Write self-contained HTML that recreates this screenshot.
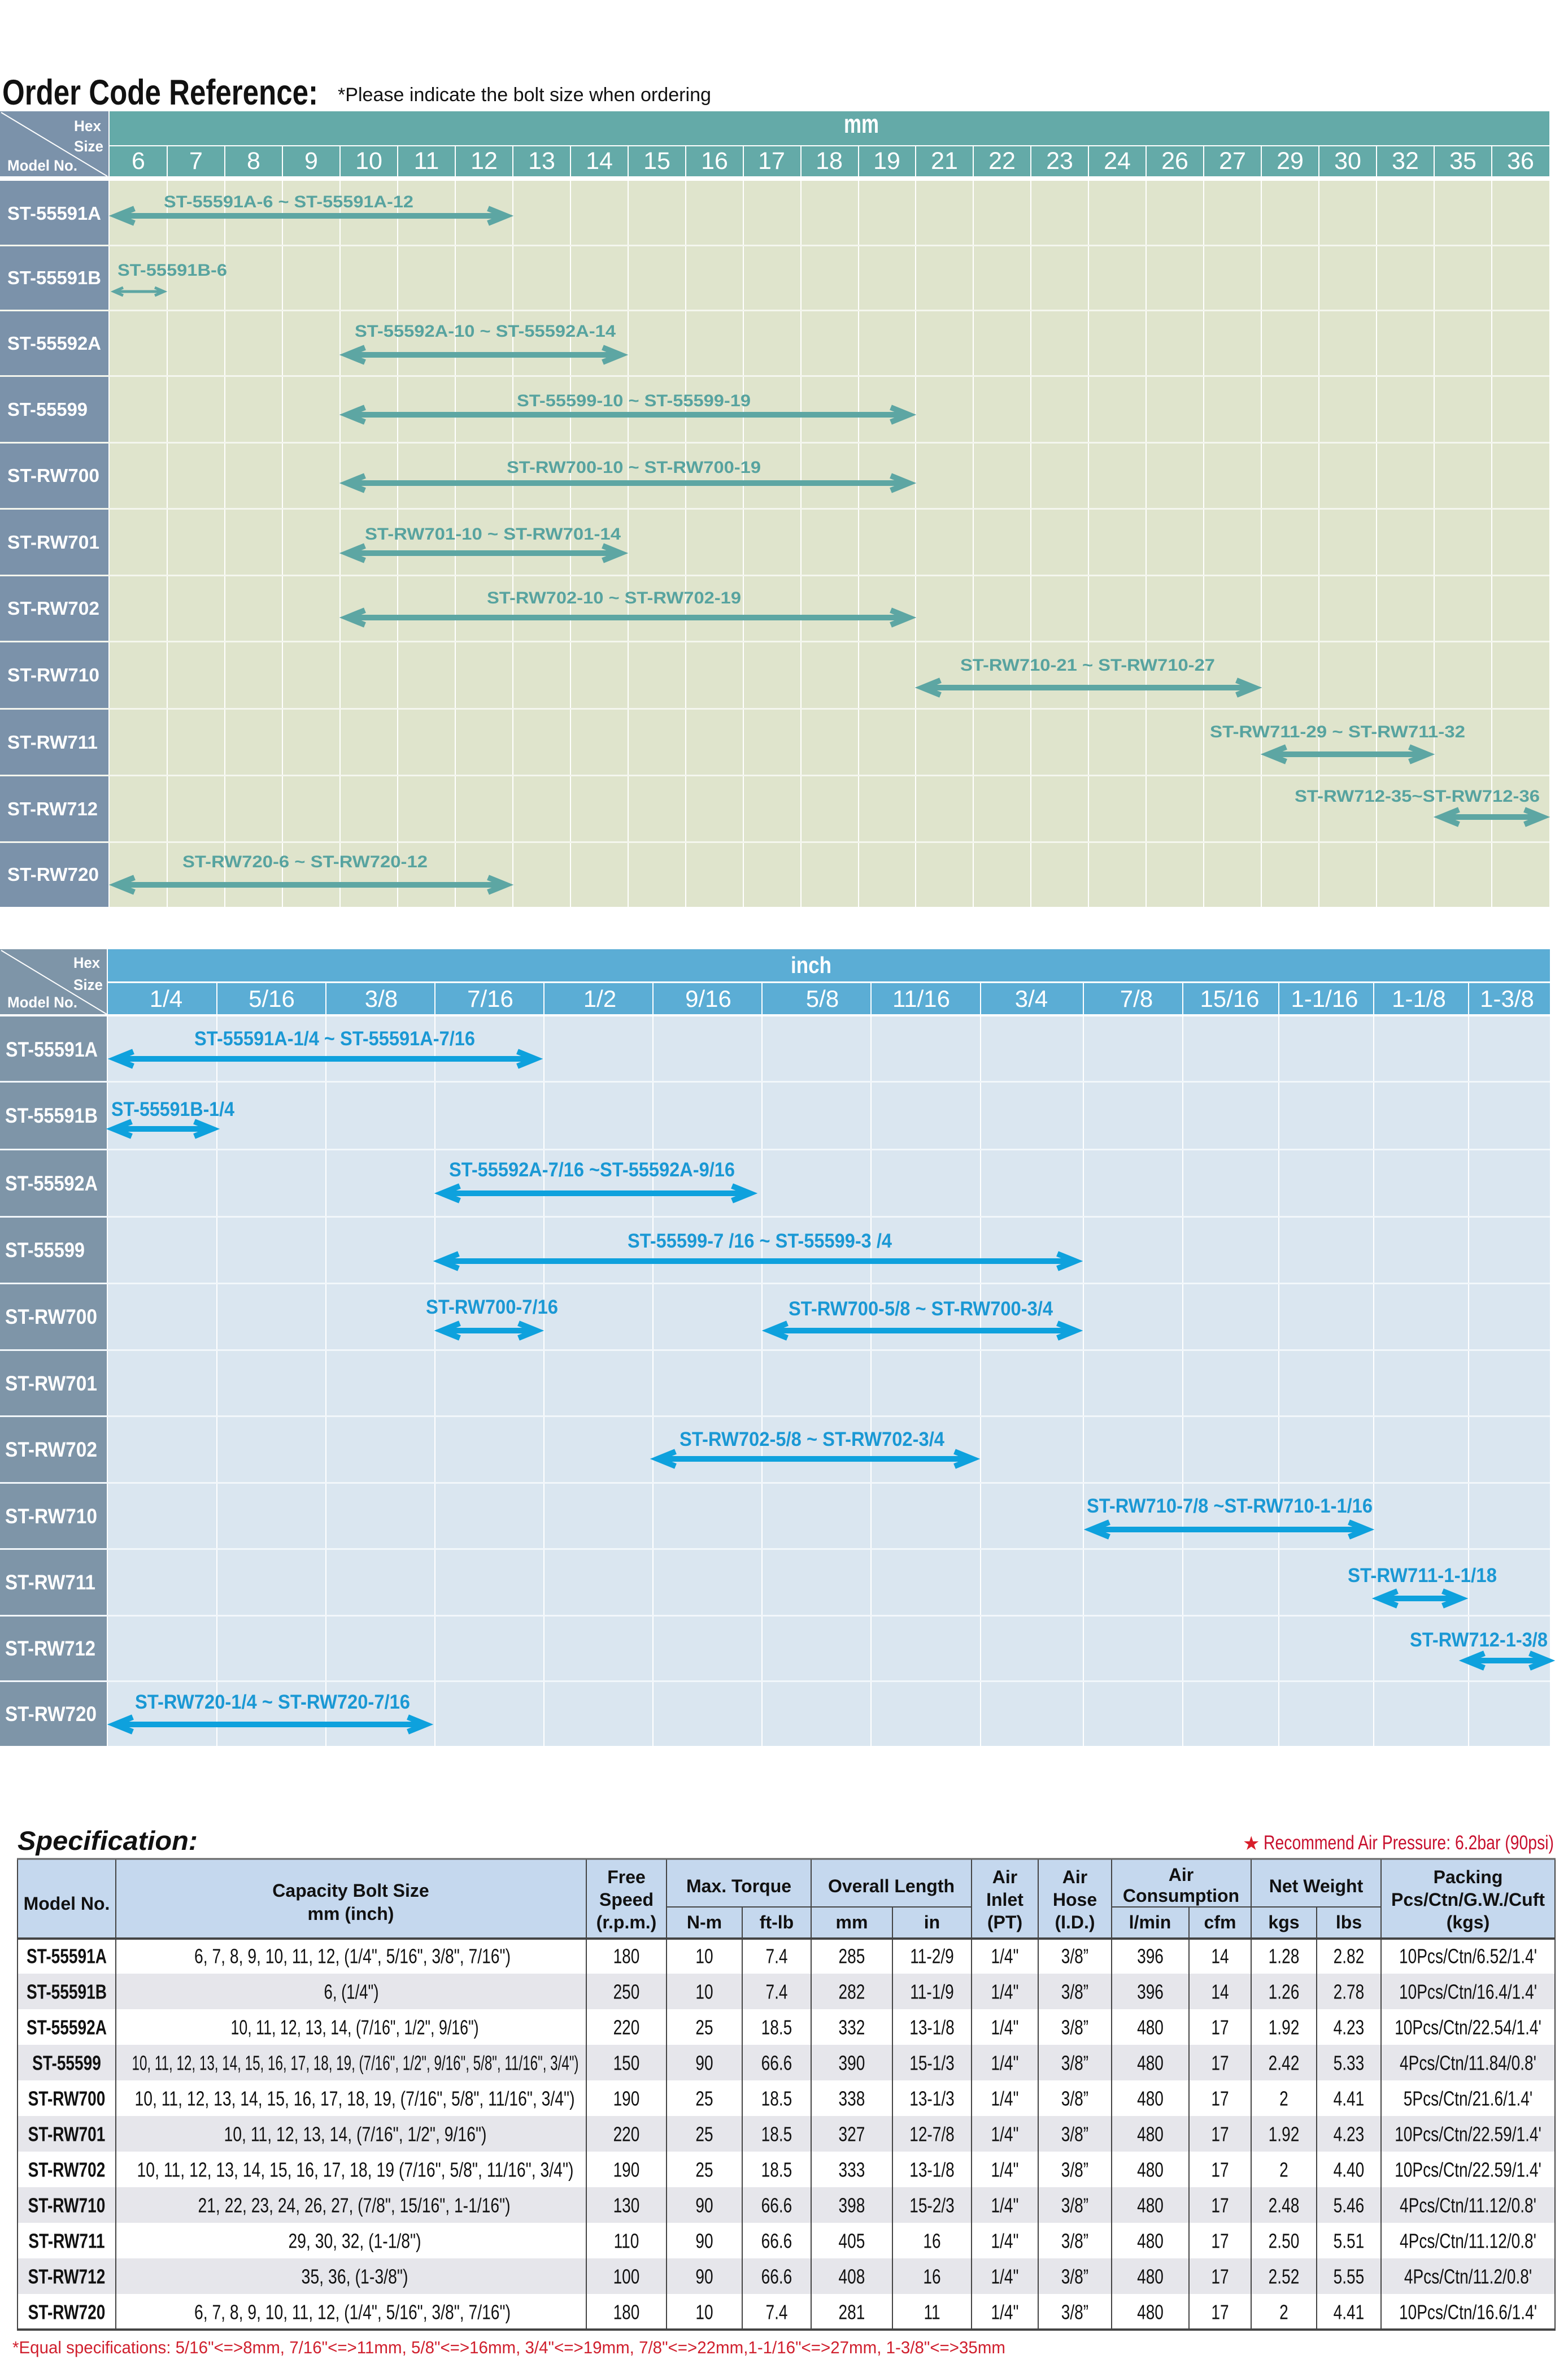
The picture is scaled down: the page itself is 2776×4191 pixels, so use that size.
<!DOCTYPE html>
<html><head><meta charset="utf-8"><style>html,body{margin:0;padding:0;background:#fff}svg{display:block}</style></head>
<body>
<svg xmlns="http://www.w3.org/2000/svg" width="2776" height="4191" viewBox="0 0 2776 4191" font-family="'Liberation Sans', Arial, sans-serif">
<rect width="2776" height="4191" fill="#fff"/>

<!-- Title -->
<text x="4" y="185" font-size="63" font-weight="bold" fill="#111" textLength="559" lengthAdjust="spacingAndGlyphs">Order Code Reference:</text>
<text x="598" y="179" font-size="34" fill="#111" textLength="661" lengthAdjust="spacingAndGlyphs">*Please indicate the bolt size when ordering</text>

<!-- ============ MM CHART ============ -->
<rect x="0" y="197" width="192" height="115" fill="#7b92aa"/>
<rect x="194" y="197" width="2549" height="60" fill="#64aaa8"/>
<rect x="194" y="259" width="2549" height="53" fill="#64aaa8"/>
<line x1="2" y1="199" x2="190" y2="312" stroke="#fff" stroke-width="2"/>
<g font-weight="bold" fill="#fff" font-size="27">
<text x="131" y="232" textLength="48" lengthAdjust="spacingAndGlyphs">Hex</text>
<text x="131" y="268" textLength="52" lengthAdjust="spacingAndGlyphs">Size</text>
<text x="13" y="302" textLength="124" lengthAdjust="spacingAndGlyphs">Model No.</text>
</g>
<text x="1494" y="235" font-size="46" font-weight="bold" fill="#fff" textLength="62" lengthAdjust="spacingAndGlyphs">mm</text>
<text y="299" font-size="43" fill="#fff" text-anchor="middle"><tspan x="245">6</tspan><tspan x="347">7</tspan><tspan x="449">8</tspan><tspan x="551">9</tspan><tspan x="653">10</tspan><tspan x="755">11</tspan><tspan x="857">12</tspan><tspan x="959">13</tspan><tspan x="1061">14</tspan><tspan x="1163">15</tspan><tspan x="1265">16</tspan><tspan x="1366">17</tspan><tspan x="1468">18</tspan><tspan x="1570">19</tspan><tspan x="1672">21</tspan><tspan x="1774">22</tspan><tspan x="1876">23</tspan><tspan x="1978">24</tspan><tspan x="2080">26</tspan><tspan x="2182">27</tspan><tspan x="2284">29</tspan><tspan x="2386">30</tspan><tspan x="2488">32</tspan><tspan x="2590">35</tspan><tspan x="2692">36</tspan></text>

<rect x="194" y="320" width="2549" height="1285" fill="#dfe4cc"/>
<rect x="0" y="320" width="192" height="1285" fill="#7b92aa"/>
<g stroke="#fff" stroke-width="2">
<line x1="296" y1="259" x2="296" y2="1605"/><line x1="398" y1="259" x2="398" y2="1605"/><line x1="500" y1="259" x2="500" y2="1605"/><line x1="602" y1="259" x2="602" y2="1605"/><line x1="704" y1="259" x2="704" y2="1605"/><line x1="806" y1="259" x2="806" y2="1605"/><line x1="908" y1="259" x2="908" y2="1605"/><line x1="1010" y1="259" x2="1010" y2="1605"/><line x1="1112" y1="259" x2="1112" y2="1605"/><line x1="1214" y1="259" x2="1214" y2="1605"/><line x1="1316" y1="259" x2="1316" y2="1605"/><line x1="1418" y1="259" x2="1418" y2="1605"/><line x1="1520" y1="259" x2="1520" y2="1605"/><line x1="1621" y1="259" x2="1621" y2="1605"/><line x1="1723" y1="259" x2="1723" y2="1605"/><line x1="1825" y1="259" x2="1825" y2="1605"/><line x1="1927" y1="259" x2="1927" y2="1605"/><line x1="2029" y1="259" x2="2029" y2="1605"/><line x1="2131" y1="259" x2="2131" y2="1605"/><line x1="2233" y1="259" x2="2233" y2="1605"/><line x1="2335" y1="259" x2="2335" y2="1605"/><line x1="2437" y1="259" x2="2437" y2="1605"/><line x1="2539" y1="259" x2="2539" y2="1605"/><line x1="2641" y1="259" x2="2641" y2="1605"/>
</g>
<g fill="#f4f6ee">
<rect x="0" y="433" width="2743" height="3"/><rect x="0" y="548" width="2743" height="3"/><rect x="0" y="664" width="2743" height="3"/><rect x="0" y="782" width="2743" height="3"/><rect x="0" y="899" width="2743" height="3"/><rect x="0" y="1017" width="2743" height="3"/><rect x="0" y="1134" width="2743" height="3"/><rect x="0" y="1253" width="2743" height="3"/><rect x="0" y="1371" width="2743" height="3"/><rect x="0" y="1489" width="2743" height="3"/>
</g>
<g font-weight="bold" fill="#fff" font-size="33">
<text x="13" y="389" textLength="166" lengthAdjust="spacingAndGlyphs">ST-55591A</text>
<text x="13" y="503" textLength="166" lengthAdjust="spacingAndGlyphs">ST-55591B</text>
<text x="13" y="619" textLength="166" lengthAdjust="spacingAndGlyphs">ST-55592A</text>
<text x="13" y="736" textLength="142" lengthAdjust="spacingAndGlyphs">ST-55599</text>
<text x="13" y="853" textLength="163" lengthAdjust="spacingAndGlyphs">ST-RW700</text>
<text x="13" y="971" textLength="163" lengthAdjust="spacingAndGlyphs">ST-RW701</text>
<text x="13" y="1088" textLength="163" lengthAdjust="spacingAndGlyphs">ST-RW702</text>
<text x="13" y="1206" textLength="163" lengthAdjust="spacingAndGlyphs">ST-RW710</text>
<text x="13" y="1325" textLength="160" lengthAdjust="spacingAndGlyphs">ST-RW711</text>
<text x="13" y="1443" textLength="160" lengthAdjust="spacingAndGlyphs">ST-RW712</text>
<text x="13" y="1559" textLength="162" lengthAdjust="spacingAndGlyphs">ST-RW720</text>
</g>
<g font-weight="bold" fill="#57a39f" font-size="30">
<text x="290" y="367" textLength="442" lengthAdjust="spacingAndGlyphs">ST-55591A-6 ~ ST-55591A-12</text>
<text x="208" y="488" textLength="194" lengthAdjust="spacingAndGlyphs">ST-55591B-6</text>
<text x="628" y="596" textLength="462" lengthAdjust="spacingAndGlyphs">ST-55592A-10 ~ ST-55592A-14</text>
<text x="915" y="719" textLength="414" lengthAdjust="spacingAndGlyphs">ST-55599-10 ~ ST-55599-19</text>
<text x="897" y="837" textLength="450" lengthAdjust="spacingAndGlyphs">ST-RW700-10 ~ ST-RW700-19</text>
<text x="646" y="955" textLength="453" lengthAdjust="spacingAndGlyphs">ST-RW701-10 ~ ST-RW701-14</text>
<text x="862" y="1068" textLength="450" lengthAdjust="spacingAndGlyphs">ST-RW702-10 ~ ST-RW702-19</text>
<text x="1700" y="1187" textLength="451" lengthAdjust="spacingAndGlyphs">ST-RW710-21 ~ ST-RW710-27</text>
<text x="2142" y="1305" textLength="452" lengthAdjust="spacingAndGlyphs">ST-RW711-29 ~ ST-RW711-32</text>
<text x="2292" y="1419" textLength="434" lengthAdjust="spacingAndGlyphs">ST-RW712-35~ST-RW712-36</text>
<text x="323" y="1535" textLength="434" lengthAdjust="spacingAndGlyphs">ST-RW720-6 ~ ST-RW720-12</text>
</g>
<g stroke="#5da6a3" stroke-width="10" fill="none" stroke-linejoin="miter" stroke-miterlimit="6">
<path d="M206 382H896 M238 369L206 382L238 395 M864 369L896 382L864 395"/>
<path d="M614 628H1099 M646 615L614 628L646 641 M1067 615L1099 628L1067 641"/>
<path d="M614 734H1609 M646 721L614 734L646 747 M1577 721L1609 734L1577 747"/>
<path d="M614 855H1609 M646 842L614 855L646 868 M1577 842L1609 855L1577 868"/>
<path d="M614 979H1099 M646 966L614 979L646 992 M1067 966L1099 979L1067 992"/>
<path d="M614 1093H1609 M646 1080L614 1093L646 1106 M1577 1080L1609 1093L1577 1106"/>
<path d="M1633 1217H2221 M1665 1204L1633 1217L1665 1230 M2189 1204L2221 1217L2189 1230"/>
<path d="M2245 1335H2527 M2277 1322L2245 1335L2277 1348 M2495 1322L2527 1335L2495 1348"/>
<path d="M2551 1446H2731 M2583 1433L2551 1446L2583 1459 M2699 1433L2731 1446L2699 1459"/>
<path d="M206 1566H896 M238 1553L206 1566L238 1579 M864 1553L896 1566L864 1579"/>
<path stroke-width="5" d="M202 516H290 M218 509L202 516L218 523 M274 509L290 516L274 523"/>
</g>

<!-- ============ INCH CHART ============ -->
<rect x="0" y="1680" width="189" height="115" fill="#7e95a8"/>
<rect x="191" y="1680" width="2553" height="57" fill="#5badd5"/>
<rect x="191" y="1740" width="2553" height="55" fill="#5badd5"/>
<line x1="2" y1="1682" x2="189" y2="1795" stroke="#fff" stroke-width="2"/>
<g font-weight="bold" fill="#fff" font-size="27">
<text x="130" y="1713" textLength="47" lengthAdjust="spacingAndGlyphs">Hex</text>
<text x="130" y="1752" textLength="52" lengthAdjust="spacingAndGlyphs">Size</text>
<text x="13" y="1783" textLength="124" lengthAdjust="spacingAndGlyphs">Model No.</text>
</g>
<text x="1400" y="1722" font-size="41" font-weight="bold" fill="#fff" textLength="72" lengthAdjust="spacingAndGlyphs">inch</text>
<text y="1782" font-size="42" fill="#fff" text-anchor="middle"><tspan x="294">1/4</tspan><tspan x="481">5/16</tspan><tspan x="675">3/8</tspan><tspan x="868">7/16</tspan><tspan x="1062">1/2</tspan><tspan x="1254">9/16</tspan><tspan x="1456">5/8</tspan><tspan x="1631">11/16</tspan><tspan x="1826">3/4</tspan><tspan x="2012">7/8</tspan><tspan x="2177">15/16</tspan><tspan x="2345">1-1/16</tspan><tspan x="2512">1-1/8</tspan><tspan x="2668">1-3/8</tspan></text>

<rect x="191" y="1799" width="2553" height="1291" fill="#dae6f0"/>
<rect x="0" y="1799" width="189" height="1291" fill="#7e95a8"/>
<g stroke="#fff" stroke-width="2">
<line x1="384" y1="1740" x2="384" y2="3090"/><line x1="577" y1="1740" x2="577" y2="3090"/><line x1="770" y1="1740" x2="770" y2="3090"/><line x1="963" y1="1740" x2="963" y2="3090"/><line x1="1156" y1="1740" x2="1156" y2="3090"/><line x1="1349" y1="1740" x2="1349" y2="3090"/><line x1="1542" y1="1740" x2="1542" y2="3090"/><line x1="1736" y1="1740" x2="1736" y2="3090"/><line x1="1918" y1="1740" x2="1918" y2="3090"/><line x1="2094" y1="1740" x2="2094" y2="3090"/><line x1="2264" y1="1740" x2="2264" y2="3090"/><line x1="2432" y1="1740" x2="2432" y2="3090"/><line x1="2600" y1="1740" x2="2600" y2="3090"/>
</g>
<g fill="#f2f7fb">
<rect x="0" y="1913" width="2744" height="3"/><rect x="0" y="2033" width="2744" height="3"/><rect x="0" y="2152" width="2744" height="3"/><rect x="0" y="2270" width="2744" height="3"/><rect x="0" y="2388" width="2744" height="3"/><rect x="0" y="2505" width="2744" height="3"/><rect x="0" y="2623" width="2744" height="3"/><rect x="0" y="2740" width="2744" height="3"/><rect x="0" y="2858" width="2744" height="3"/><rect x="0" y="2974" width="2744" height="3"/>
</g>
<g font-weight="bold" fill="#fff" font-size="37">
<text x="10" y="1870" textLength="163" lengthAdjust="spacingAndGlyphs">ST-55591A</text>
<text x="9" y="1987" textLength="164" lengthAdjust="spacingAndGlyphs">ST-55591B</text>
<text x="9" y="2107" textLength="164" lengthAdjust="spacingAndGlyphs">ST-55592A</text>
<text x="9" y="2225" textLength="141" lengthAdjust="spacingAndGlyphs">ST-55599</text>
<text x="9" y="2343" textLength="163" lengthAdjust="spacingAndGlyphs">ST-RW700</text>
<text x="9" y="2461" textLength="163" lengthAdjust="spacingAndGlyphs">ST-RW701</text>
<text x="9" y="2578" textLength="163" lengthAdjust="spacingAndGlyphs">ST-RW702</text>
<text x="9" y="2696" textLength="163" lengthAdjust="spacingAndGlyphs">ST-RW710</text>
<text x="9" y="2813" textLength="160" lengthAdjust="spacingAndGlyphs">ST-RW711</text>
<text x="9" y="2930" textLength="160" lengthAdjust="spacingAndGlyphs">ST-RW712</text>
<text x="9" y="3046" textLength="162" lengthAdjust="spacingAndGlyphs">ST-RW720</text>
</g>
<g font-weight="bold" fill="#1a98d4" font-size="35">
<text x="344" y="1850" textLength="497" lengthAdjust="spacingAndGlyphs">ST-55591A-1/4 ~ ST-55591A-7/16</text>
<text x="197" y="1975" textLength="218" lengthAdjust="spacingAndGlyphs">ST-55591B-1/4</text>
<text x="795" y="2082" textLength="506" lengthAdjust="spacingAndGlyphs">ST-55592A-7/16 ~ST-55592A-9/16</text>
<text x="1111" y="2208" textLength="468" lengthAdjust="spacingAndGlyphs">ST-55599-7 /16 ~ ST-55599-3 /4</text>
<text x="754" y="2325" textLength="234" lengthAdjust="spacingAndGlyphs">ST-RW700-7/16</text>
<text x="1396" y="2328" textLength="468" lengthAdjust="spacingAndGlyphs">ST-RW700-5/8 ~ ST-RW700-3/4</text>
<text x="1203" y="2559" textLength="469" lengthAdjust="spacingAndGlyphs">ST-RW702-5/8 ~ ST-RW702-3/4</text>
<text x="1924" y="2677" textLength="506" lengthAdjust="spacingAndGlyphs">ST-RW710-7/8 ~ST-RW710-1-1/16</text>
<text x="2386" y="2800" textLength="264" lengthAdjust="spacingAndGlyphs">ST-RW711-1-1/18</text>
<text x="2496" y="2914" textLength="244" lengthAdjust="spacingAndGlyphs">ST-RW712-1-3/8</text>
<text x="239" y="3024" textLength="487" lengthAdjust="spacingAndGlyphs">ST-RW720-1/4 ~ ST-RW720-7/16</text>
</g>
<g stroke="#0ea1dd" stroke-width="10" fill="none" stroke-linejoin="miter" stroke-miterlimit="6">
<path d="M204 1874H948 M236 1861L204 1874L236 1887 M916 1861L948 1874L916 1887"/>
<path d="M201 1998H376 M233 1985L201 1998L233 2011 M344 1985L376 1998L344 2011"/>
<path d="M782 2112H1328 M814 2099L782 2112L814 2125 M1296 2099L1328 2112L1296 2125"/>
<path d="M780 2232H1904 M812 2219L780 2232L812 2245 M1872 2219L1904 2232L1872 2245"/>
<path d="M782 2355H950 M814 2342L782 2355L814 2368 M918 2342L950 2355L918 2368"/>
<path d="M1362 2355H1904 M1394 2342L1362 2355L1394 2368 M1872 2342L1904 2355L1872 2368"/>
<path d="M1164 2582H1722 M1196 2569L1164 2582L1196 2595 M1690 2569L1722 2582L1690 2595"/>
<path d="M1932 2707H2420 M1964 2694L1932 2707L1964 2720 M2388 2694L2420 2707L2388 2720"/>
<path d="M2442 2829H2586 M2474 2816L2442 2829L2474 2842 M2554 2816L2586 2829L2554 2842"/>
<path d="M2596 2939H2740 M2628 2926L2596 2939L2628 2952 M2708 2926L2740 2939L2708 2952"/>
<path d="M203 3052H754 M235 3039L203 3052L235 3065 M722 3039L754 3052L722 3065"/>
</g>

<!-- ============ SPECIFICATION ============ -->
<text x="31" y="3274" font-size="47" font-weight="bold" font-style="italic" fill="#111" textLength="319" lengthAdjust="spacingAndGlyphs">Specification:</text>
<text x="2200" y="3274" font-size="34" fill="#d81e2a" font-family="'DejaVu Sans', sans-serif">★</text>
<text x="2237" y="3273" font-size="35" fill="#c8102e" textLength="514" lengthAdjust="spacingAndGlyphs">Recommend Air Pressure: 6.2bar (90psi)</text>

<rect x="31" y="3290" width="2722" height="140" fill="#c5d8ee"/>
<g fill="#e6e6eb">
<rect x="31" y="3493" width="2722" height="63"/><rect x="31" y="3619" width="2722" height="63"/><rect x="31" y="3745" width="2722" height="63"/><rect x="31" y="3871" width="2722" height="63"/><rect x="31" y="3997" width="2722" height="63"/>
</g>
<g stroke="#444" stroke-width="2">
<line x1="31" y1="3290" x2="31" y2="4123"/><line x1="205" y1="3290" x2="205" y2="4123"/><line x1="1038" y1="3290" x2="1038" y2="4123"/><line x1="1180" y1="3290" x2="1180" y2="4123"/><line x1="1436" y1="3290" x2="1436" y2="4123"/><line x1="1720" y1="3290" x2="1720" y2="4123"/><line x1="1838" y1="3290" x2="1838" y2="4123"/><line x1="1968" y1="3290" x2="1968" y2="4123"/><line x1="2215" y1="3290" x2="2215" y2="4123"/><line x1="2445" y1="3290" x2="2445" y2="4123"/><line x1="2753" y1="3290" x2="2753" y2="4123"/>
<line x1="1314" y1="3375" x2="1314" y2="4123"/><line x1="1580" y1="3375" x2="1580" y2="4123"/><line x1="2105" y1="3375" x2="2105" y2="4123"/><line x1="2331" y1="3375" x2="2331" y2="4123"/>
<line x1="1180" y1="3375" x2="1720" y2="3375"/><line x1="1968" y1="3375" x2="2445" y2="3375"/>
</g>
<line x1="30" y1="3290" x2="2754" y2="3290" stroke="#666" stroke-width="3"/>
<line x1="30" y1="3431" x2="2754" y2="3431" stroke="#444" stroke-width="4"/>
<line x1="30" y1="4123" x2="2754" y2="4123" stroke="#444" stroke-width="4"/>

<g font-size="32" font-weight="bold" fill="#111" text-anchor="middle">
<text x="118" y="3380">Model No.</text>
<text x="621" y="3357">Capacity Bolt Size</text>
<text x="621" y="3398">mm (inch)</text>
<text x="1109" y="3333">Free</text><text x="1109" y="3373">Speed</text><text x="1109" y="3413">(r.p.m.)</text>
<text x="1308" y="3349">Max. Torque</text><text x="1247" y="3413">N-m</text><text x="1375" y="3413">ft-lb</text>
<text x="1578" y="3349">Overall Length</text><text x="1508" y="3413">mm</text><text x="1650" y="3413">in</text>
<text x="1779" y="3333">Air</text><text x="1779" y="3373">Inlet</text><text x="1779" y="3413">(PT)</text>
<text x="1903" y="3333">Air</text><text x="1903" y="3373">Hose</text><text x="1903" y="3413">(I.D.)</text>
<text x="2091" y="3329">Air</text><text x="2091" y="3366">Consumption</text><text x="2036" y="3413">l/min</text><text x="2160" y="3413">cfm</text>
<text x="2330" y="3349">Net Weight</text><text x="2273" y="3413">kgs</text><text x="2388" y="3413">lbs</text>
<text x="2599" y="3333">Packing</text><text x="2599" y="3373">Pcs/Ctn/G.W./Cuft</text><text x="2599" y="3413">(kgs)</text>
</g>

<!-- capacity column -->
<g font-size="36" fill="#111" text-anchor="middle">
<text x="624" y="3474.5" textLength="560" lengthAdjust="spacingAndGlyphs">6, 7, 8, 9, 10, 11, 12, (1/4", 5/16", 3/8", 7/16")</text>
<text x="622" y="3537.5" textLength="97" lengthAdjust="spacingAndGlyphs">6, (1/4")</text>
<text x="628" y="3600.5" textLength="439" lengthAdjust="spacingAndGlyphs">10, 11, 12, 13, 14, (7/16", 1/2", 9/16")</text>
<text x="629" y="3663.5" textLength="791" lengthAdjust="spacingAndGlyphs">10, 11, 12, 13, 14, 15, 16, 17, 18, 19, (7/16", 1/2", 9/16", 5/8", 11/16", 3/4")</text>
<text x="628" y="3726.5" textLength="779" lengthAdjust="spacingAndGlyphs">10, 11, 12, 13, 14, 15, 16, 17, 18, 19, (7/16", 5/8", 11/16", 3/4")</text>
<text x="629" y="3789.5" textLength="465" lengthAdjust="spacingAndGlyphs">10, 11, 12, 13, 14, (7/16", 1/2", 9/16")</text>
<text x="629" y="3852.5" textLength="773" lengthAdjust="spacingAndGlyphs">10, 11, 12, 13, 14, 15, 16, 17, 18, 19 (7/16", 5/8", 11/16", 3/4")</text>
<text x="627" y="3915.5" textLength="553" lengthAdjust="spacingAndGlyphs">21, 22, 23, 24, 26, 27, (7/8", 15/16", 1-1/16")</text>
<text x="628" y="3978.5" textLength="235" lengthAdjust="spacingAndGlyphs">29, 30, 32, (1-1/8")</text>
<text x="628" y="4041.5" textLength="189" lengthAdjust="spacingAndGlyphs">35, 36, (1-3/8")</text>
<text x="624" y="4104.5" textLength="560" lengthAdjust="spacingAndGlyphs">6, 7, 8, 9, 10, 11, 12, (1/4", 5/16", 3/8", 7/16")</text>
</g>

<!-- other data columns (condensed) -->
<g transform="scale(0.78 1)" font-size="36" fill="#111" text-anchor="middle">
<text y="3474.5"><tspan x="151.3" font-weight="bold">ST-55591A</tspan><tspan x="1421.8">180</tspan><tspan x="1598.7">10</tspan><tspan x="1762.8">7.4</tspan><tspan x="1933.3">285</tspan><tspan x="2115.4">11-2/9</tspan><tspan x="2280.8">1/4"</tspan><tspan x="2439.7">3/8”</tspan><tspan x="2610.9">396</tspan><tspan x="2769.2">14</tspan><tspan x="2914.1">1.28</tspan><tspan x="3061.5">2.82</tspan><tspan x="3332.1">10Pcs/Ctn/6.52/1.4'</tspan></text>
<text y="3537.5"><tspan x="151.3" font-weight="bold">ST-55591B</tspan><tspan x="1421.8">250</tspan><tspan x="1598.7">10</tspan><tspan x="1762.8">7.4</tspan><tspan x="1933.3">282</tspan><tspan x="2115.4">11-1/9</tspan><tspan x="2280.8">1/4"</tspan><tspan x="2439.7">3/8”</tspan><tspan x="2610.9">396</tspan><tspan x="2769.2">14</tspan><tspan x="2914.1">1.26</tspan><tspan x="3061.5">2.78</tspan><tspan x="3332.1">10Pcs/Ctn/16.4/1.4'</tspan></text>
<text y="3600.5"><tspan x="151.3" font-weight="bold">ST-55592A</tspan><tspan x="1421.8">220</tspan><tspan x="1598.7">25</tspan><tspan x="1762.8">18.5</tspan><tspan x="1933.3">332</tspan><tspan x="2115.4">13-1/8</tspan><tspan x="2280.8">1/4"</tspan><tspan x="2439.7">3/8”</tspan><tspan x="2610.9">480</tspan><tspan x="2769.2">17</tspan><tspan x="2914.1">1.92</tspan><tspan x="3061.5">4.23</tspan><tspan x="3332.1">10Pcs/Ctn/22.54/1.4'</tspan></text>
<text y="3663.5"><tspan x="151.3" font-weight="bold">ST-55599</tspan><tspan x="1421.8">150</tspan><tspan x="1598.7">90</tspan><tspan x="1762.8">66.6</tspan><tspan x="1933.3">390</tspan><tspan x="2115.4">15-1/3</tspan><tspan x="2280.8">1/4"</tspan><tspan x="2439.7">3/8”</tspan><tspan x="2610.9">480</tspan><tspan x="2769.2">17</tspan><tspan x="2914.1">2.42</tspan><tspan x="3061.5">5.33</tspan><tspan x="3332.1">4Pcs/Ctn/11.84/0.8'</tspan></text>
<text y="3726.5"><tspan x="151.3" font-weight="bold">ST-RW700</tspan><tspan x="1421.8">190</tspan><tspan x="1598.7">25</tspan><tspan x="1762.8">18.5</tspan><tspan x="1933.3">338</tspan><tspan x="2115.4">13-1/3</tspan><tspan x="2280.8">1/4"</tspan><tspan x="2439.7">3/8”</tspan><tspan x="2610.9">480</tspan><tspan x="2769.2">17</tspan><tspan x="2914.1">2</tspan><tspan x="3061.5">4.41</tspan><tspan x="3332.1">5Pcs/Ctn/21.6/1.4'</tspan></text>
<text y="3789.5"><tspan x="151.3" font-weight="bold">ST-RW701</tspan><tspan x="1421.8">220</tspan><tspan x="1598.7">25</tspan><tspan x="1762.8">18.5</tspan><tspan x="1933.3">327</tspan><tspan x="2115.4">12-7/8</tspan><tspan x="2280.8">1/4"</tspan><tspan x="2439.7">3/8”</tspan><tspan x="2610.9">480</tspan><tspan x="2769.2">17</tspan><tspan x="2914.1">1.92</tspan><tspan x="3061.5">4.23</tspan><tspan x="3332.1">10Pcs/Ctn/22.59/1.4'</tspan></text>
<text y="3852.5"><tspan x="151.3" font-weight="bold">ST-RW702</tspan><tspan x="1421.8">190</tspan><tspan x="1598.7">25</tspan><tspan x="1762.8">18.5</tspan><tspan x="1933.3">333</tspan><tspan x="2115.4">13-1/8</tspan><tspan x="2280.8">1/4"</tspan><tspan x="2439.7">3/8”</tspan><tspan x="2610.9">480</tspan><tspan x="2769.2">17</tspan><tspan x="2914.1">2</tspan><tspan x="3061.5">4.40</tspan><tspan x="3332.1">10Pcs/Ctn/22.59/1.4'</tspan></text>
<text y="3915.5"><tspan x="151.3" font-weight="bold">ST-RW710</tspan><tspan x="1421.8">130</tspan><tspan x="1598.7">90</tspan><tspan x="1762.8">66.6</tspan><tspan x="1933.3">398</tspan><tspan x="2115.4">15-2/3</tspan><tspan x="2280.8">1/4"</tspan><tspan x="2439.7">3/8”</tspan><tspan x="2610.9">480</tspan><tspan x="2769.2">17</tspan><tspan x="2914.1">2.48</tspan><tspan x="3061.5">5.46</tspan><tspan x="3332.1">4Pcs/Ctn/11.12/0.8'</tspan></text>
<text y="3978.5"><tspan x="151.3" font-weight="bold">ST-RW711</tspan><tspan x="1421.8">110</tspan><tspan x="1598.7">90</tspan><tspan x="1762.8">66.6</tspan><tspan x="1933.3">405</tspan><tspan x="2115.4">16</tspan><tspan x="2280.8">1/4"</tspan><tspan x="2439.7">3/8”</tspan><tspan x="2610.9">480</tspan><tspan x="2769.2">17</tspan><tspan x="2914.1">2.50</tspan><tspan x="3061.5">5.51</tspan><tspan x="3332.1">4Pcs/Ctn/11.12/0.8'</tspan></text>
<text y="4041.5"><tspan x="151.3" font-weight="bold">ST-RW712</tspan><tspan x="1421.8">100</tspan><tspan x="1598.7">90</tspan><tspan x="1762.8">66.6</tspan><tspan x="1933.3">408</tspan><tspan x="2115.4">16</tspan><tspan x="2280.8">1/4"</tspan><tspan x="2439.7">3/8”</tspan><tspan x="2610.9">480</tspan><tspan x="2769.2">17</tspan><tspan x="2914.1">2.52</tspan><tspan x="3061.5">5.55</tspan><tspan x="3332.1">4Pcs/Ctn/11.2/0.8'</tspan></text>
<text y="4104.5"><tspan x="151.3" font-weight="bold">ST-RW720</tspan><tspan x="1421.8">180</tspan><tspan x="1598.7">10</tspan><tspan x="1762.8">7.4</tspan><tspan x="1933.3">281</tspan><tspan x="2115.4">11</tspan><tspan x="2280.8">1/4"</tspan><tspan x="2439.7">3/8”</tspan><tspan x="2610.9">480</tspan><tspan x="2769.2">17</tspan><tspan x="2914.1">2</tspan><tspan x="3061.5">4.41</tspan><tspan x="3332.1">10Pcs/Ctn/16.6/1.4'</tspan></text>
</g>

<text x="22" y="4165" font-size="31" fill="#d0202e" textLength="1758" lengthAdjust="spacingAndGlyphs">*Equal specifications: 5/16"&lt;=&gt;8mm, 7/16"&lt;=&gt;11mm, 5/8"&lt;=&gt;16mm, 3/4"&lt;=&gt;19mm, 7/8"&lt;=&gt;22mm,1-1/16"&lt;=&gt;27mm, 1-3/8"&lt;=&gt;35mm</text>
</svg>
</body></html>
